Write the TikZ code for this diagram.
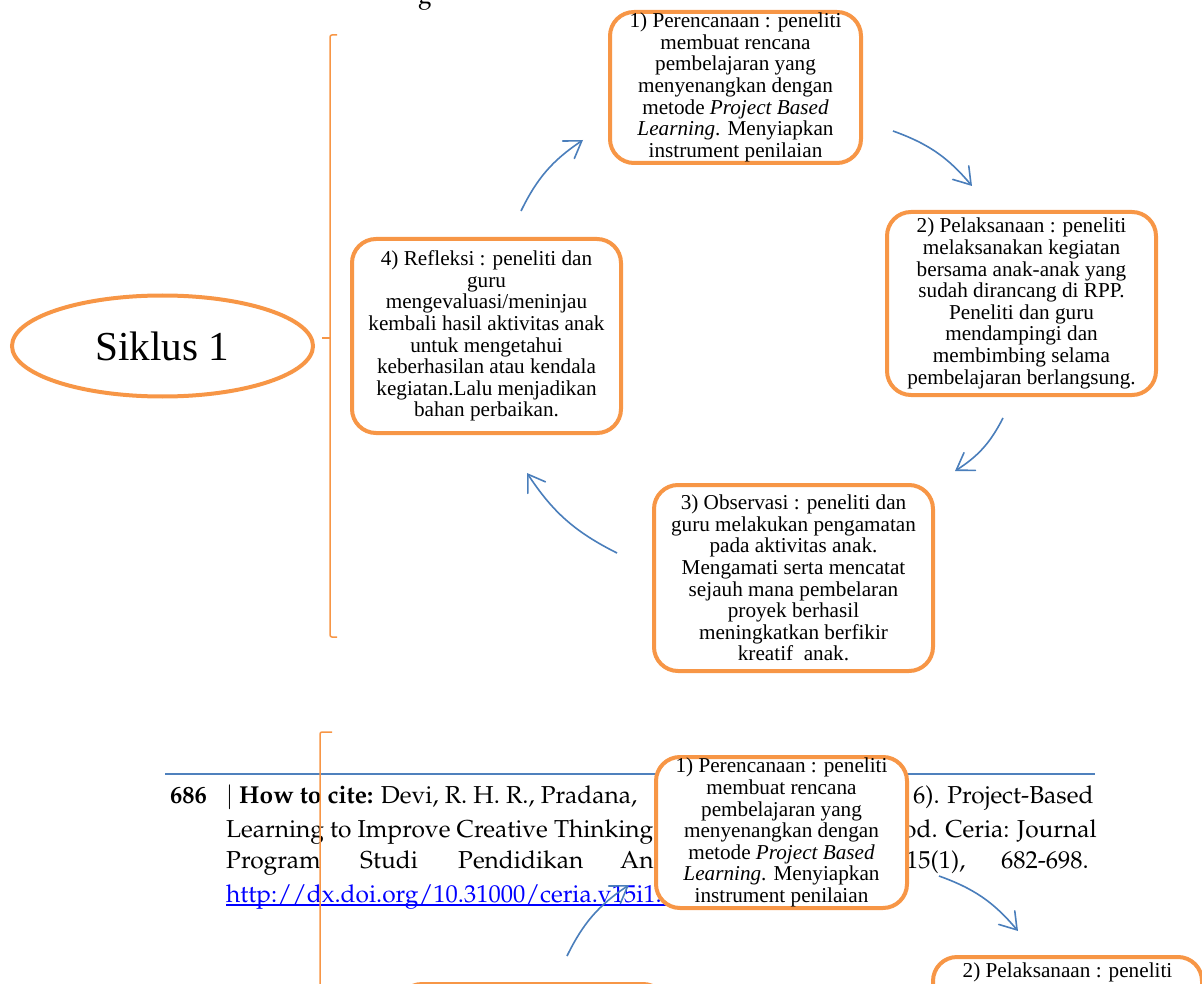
\documentclass[tikz,border=0pt]{standalone}
\usepackage[T1]{fontenc}
\usepackage{fontspec}
\setmainfont{Liberation Serif}
\usetikzlibrary{arrows.meta,shapes.geometric}
\definecolor{cyc}{HTML}{F79646}
\definecolor{flow}{HTML}{4A7EBB}
\definecolor{hrule}{HTML}{4F81BD}
\definecolor{link}{HTML}{0000FF}
\newcommand{\palfont}{\fontencoding{T1}\fontfamily{ppl}\selectfont}
\tikzset{
  stage/.style  ={draw=cyc, line width=4pt, rounded corners=24pt, fill=white,
                  align=center, inner sep=0pt,
                  font=\fontsize{21.2}{21.6}\selectfont},
  siklus/.style ={draw=cyc, line width=4pt, ellipse, inner sep=0pt,
                  font=\fontsize{41.2}{48}\selectfont},
  turn/.style   ={draw=flow, line width=1.6pt, bend left=15,
                  -{Straight Barb[length=16pt,width=21pt,line cap=round]}},
  bracket/.style={draw=cyc, line width=1.5pt, rounded corners=2pt},
  cite/.style   ={font={\palfont\fontsize{24.5}{34}\selectfont},
                  anchor=base west, inner sep=0pt},
}

\begin{document}
\begin{tikzpicture}[x=1pt,y=-1pt]
  \useasboundingbox (0,0) rectangle (1202,984);
  \clip (0,0) rectangle (1202,984);

  % heading above, cut off by the page
  \node[cite] (head) at (418,4) {g};

  % ---------------------------------------------------------------- cycle
  \node[siklus, minimum width=301pt, minimum height=101pt] (sik) at (162.5,346) {Siklus 1};
  \draw[bracket] (337,35) -- (330,35) -- (330,637) -- (337,637);
  \draw[bracket] (330,338) -- (322,338);

  \node[stage, minimum width=251pt, minimum height=151pt] (plan) at (735.5,87.5)
    {1) Perencanaan : peneliti\\ membuat rencana\\ pembelajaran yang\\
     menyenangkan dengan\\ metode \textit{Project Based}\\
     \textit{Learning}. Menyiapkan\\ instrument penilaian};
  \node[stage, minimum width=269pt, minimum height=183pt] (act) at (1021.5,303.5)
    {2) Pelaksanaan : peneliti\\ melaksanakan kegiatan\\ bersama anak-anak yang\\
     sudah dirancang di RPP.\\ Peneliti dan guru\\ mendampingi dan\\
     membimbing selama\\ pembelajaran berlangsung.};
  \node[stage, minimum width=279pt, minimum height=186pt] (obs) at (793.5,578)
    {3) Observasi : peneliti dan\\ guru melakukan pengamatan\\ pada aktivitas anak.\\
     Mengamati serta mencatat\\ sejauh mana pembelaran\\ proyek berhasil\\
     meningkatkan berfikir\\ kreatif\ \ anak.};
  \node[stage, minimum width=269pt, minimum height=194pt] (refl) at (486.5,336)
    {4) Refleksi : peneliti dan\\ guru\\ mengevaluasi/meninjau\\
     kembali hasil aktivitas anak\\ untuk mengetahui\\ keberhasilan atau kendala\\
     kegiatan.Lalu menjadikan\\ bahan perbaikan.};

  % arrows float between the boxes
  \coordinate (t1) at (893,131);  \coordinate (h1) at (972,186);
  \coordinate (t2) at (1003,418); \coordinate (h2) at (955,471);
  \coordinate (t3) at (617,553);  \coordinate (h3) at (527,473);
  \coordinate (t4) at (521,211);  \coordinate (h4) at (583,140);
  \draw[turn] (t1) to (h1);
  \draw[turn] (t2) to (h2);
  \draw[turn] (t3) to (h3);
  \draw[turn] (t4) to (h4);

  % ---------------------------------------------------------------- footer
  \draw[hrule, line width=1.5pt] (165,774) -- (1095,774);
  \node[cite] (pg)    at (170,803) {\bfseries 686};
  \node[cite] (c1)    at (226,803) {$\vert$ \textbf{How to cite:} Devi, R. H. R., Pradana,};
  \node[cite] (c1r)   at (913,803) {6). Project-Based};
  \node[cite] (c2)    at (226,837) {Learning to Improve Creative Thinking};
  \node[cite] (c2r)   at (903,837) {od. Ceria: Journal};
  \node[cite] (c3a)   at (226,868) {Program};
  \node[cite] (c3b)   at (360,868) {Studi};
  \node[cite] (c3c)   at (458,868) {Pendidikan};
  \node[cite] (c3d)   at (620,868) {An};
  \node[cite] (c3r)   at (906,868) {15(1),};
  \node[cite, anchor=base east] (c3e) at (1089,868) {682-698.};
  \node[cite, text=link] (doi) at (226,902) {http://dx.doi.org/10.31000/ceria.v15i1.152};
  \draw[link, line width=1.4pt] ([yshift=-3pt]doi.base west) -- ([yshift=-3pt]doi.base east);

  % ---------------------------------------------------------------- repeated cycle
  \begin{scope}[shift={(46,745)}]
    \node[stage, minimum width=251pt, minimum height=151pt] (plan2) at (735.5,87.5)
      {1) Perencanaan : peneliti\\ membuat rencana\\ pembelajaran yang\\
       menyenangkan dengan\\ metode \textit{Project Based}\\
       \textit{Learning}. Menyiapkan\\ instrument penilaian};
    \node[stage, minimum width=269pt, minimum height=183pt] (act2) at (1021.5,303.5)
      {2) Pelaksanaan : peneliti\\ melaksanakan kegiatan\\ bersama anak-anak yang\\
       sudah dirancang di RPP.\\ Peneliti dan guru\\ mendampingi dan\\
       membimbing selama\\ pembelajaran berlangsung.};
    \node[stage, minimum width=269pt, minimum height=194pt] (refl2) at (486.5,336) {};
    \coordinate (t1b) at (893,131);  \coordinate (h1b) at (972,186);
    \coordinate (t4b) at (521,211);  \coordinate (h4b) at (583,140);
    \draw[turn] (t1b) to (h1b);
    \draw[turn] (t4b) to (h4b);
  \end{scope}
  \draw[bracket] (332,732) -- (320,732) -- (320,1000);
\end{tikzpicture}
\end{document}
